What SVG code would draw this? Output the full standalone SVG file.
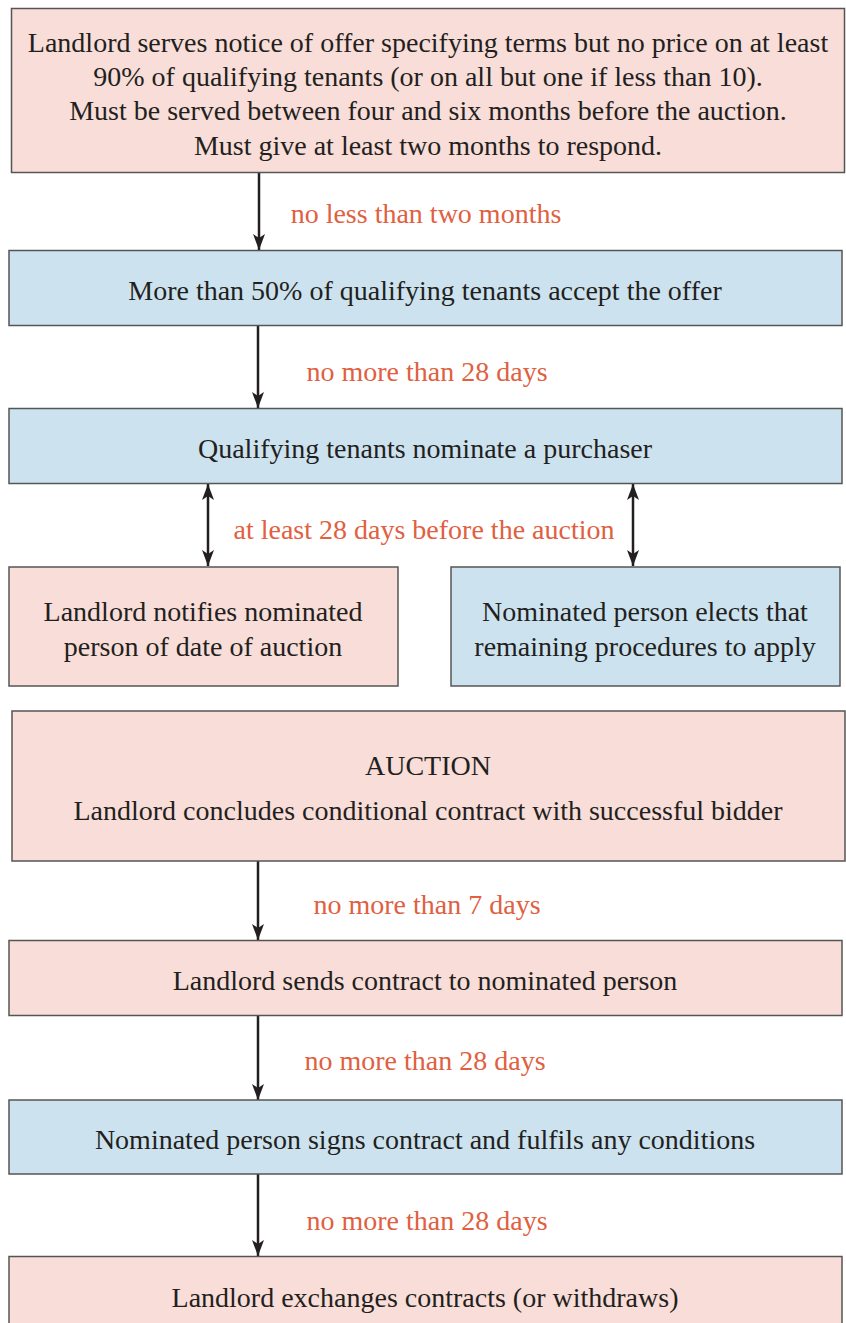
<svg xmlns="http://www.w3.org/2000/svg" width="846" height="1323" viewBox="0 0 846 1323">
<style>
.pink{fill:#f8ddd8;stroke:#555;stroke-width:1.5}
.blue{fill:#cce3ef;stroke:#555;stroke-width:1.5}
text{font-family:'Liberation Serif','DejaVu Serif',serif;font-size:28px;text-anchor:middle}
.t{fill:#231f20}
.lab{fill:#e0603f}
.c{stroke:#231f20;stroke-width:2.5;fill:none}
</style>
<defs>
<marker id="ah" viewBox="0 0 16 12" refX="16" refY="6" markerWidth="16" markerHeight="12" markerUnits="userSpaceOnUse" orient="auto-start-reverse">
<path d="M0,0 L16,6 L0,12 L4,6 Z" fill="#231f20"/>
</marker>
</defs>
<g id="connectors">
<line class="c" x1="259" y1="173" x2="259" y2="250" marker-end="url(#ah)"/>
<line class="c" x1="258" y1="325" x2="258" y2="408" marker-end="url(#ah)"/>
<line class="c" x1="208" y1="484" x2="208" y2="566" marker-start="url(#ah)" marker-end="url(#ah)"/>
<line class="c" x1="633" y1="484" x2="633" y2="566" marker-start="url(#ah)" marker-end="url(#ah)"/>
<line class="c" x1="258" y1="861" x2="258" y2="940" marker-end="url(#ah)"/>
<line class="c" x1="258" y1="1016" x2="258" y2="1100" marker-end="url(#ah)"/>
<line class="c" x1="258" y1="1174" x2="258" y2="1256" marker-end="url(#ah)"/>
<text class="lab" x="426" y="223">no less than two months</text>
<text class="lab" x="427" y="381">no more than 28 days</text>
<text class="lab" x="424" y="539">at least 28 days before the auction</text>
<text class="lab" x="427" y="914">no more than 7 days</text>
<text class="lab" x="425" y="1070">no more than 28 days</text>
<text class="lab" x="427" y="1230">no more than 28 days</text>
</g>
<g id="n1">
<rect class="pink" x="11.5" y="8.5" width="833" height="164"/>
<text class="t" x="428" y="52">Landlord serves notice of offer specifying terms but no price on at least</text>
<text class="t" x="428" y="86">90% of qualifying tenants (or on all but one if less than 10).</text>
<text class="t" x="428" y="120">Must be served between four and six months before the auction.</text>
<text class="t" x="428" y="155">Must give at least two months to respond.</text>
</g>
<g id="n2">
<rect class="blue" x="9" y="250.5" width="833" height="75"/>
<text class="t" x="425" y="300">More than 50% of qualifying tenants accept the offer</text>
</g>
<g id="n3">
<rect class="blue" x="9" y="408.5" width="833" height="75"/>
<text class="t" x="425" y="458">Qualifying tenants nominate a purchaser</text>
</g>
<g id="n4">
<rect class="pink" x="9" y="567" width="389" height="119"/>
<text class="t" x="203" y="621">Landlord notifies nominated</text>
<text class="t" x="203" y="656">person of date of auction</text>
</g>
<g id="n5">
<rect class="blue" x="451" y="567" width="389" height="119"/>
<text class="t" x="645" y="621">Nominated person elects that</text>
<text class="t" x="645" y="656">remaining procedures to apply</text>
</g>
<g id="n6">
<rect class="pink" x="12" y="711" width="833" height="150"/>
<text class="t" x="428" y="775">AUCTION</text>
<text class="t" x="428" y="820">Landlord concludes conditional contract with successful bidder</text>
</g>
<g id="n7">
<rect class="pink" x="9" y="940.5" width="833" height="75"/>
<text class="t" x="425" y="990">Landlord sends contract to nominated person</text>
</g>
<g id="n8">
<rect class="blue" x="9" y="1100" width="833" height="74"/>
<text class="t" x="425" y="1149">Nominated person signs contract and fulfils any conditions</text>
</g>
<g id="n9">
<rect class="pink" x="9" y="1256.5" width="833" height="80"/>
<text class="t" x="425" y="1307">Landlord exchanges contracts (or withdraws)</text>
</g>
</svg>
